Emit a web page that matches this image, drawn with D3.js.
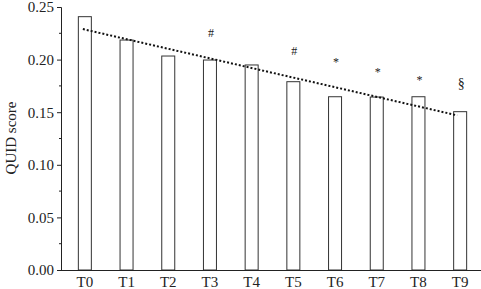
<!DOCTYPE html>
<html>
<head>
<meta charset="utf-8">
<script src="https://cdn.jsdelivr.net/npm/d3@7"></script>
<style>
  body { margin: 0; background: #fff; }
  text { font-family: "Liberation Serif", serif; fill: #222; }
</style>
</head>
<body>
<div id="viz"></div>
<script>
// values
var categories = ['T0', 'T1', 'T2', 'T3', 'T4', 'T5', 'T6', 'T7', 'T8', 'T9'];
var scores = [0.2408, 0.2186, 0.2034, 0.1996, 0.1949, 0.1790, 0.1647, 0.1644, 0.1647, 0.1505];
var trend = [0.229, 0.147];          // dotted line, at T0 and T9
var markLabels = ['', '', '', '#', '', '#', '*', '*', '*', '§'];
var markValues = [0, 0, 0, 0.2256, 0, 0.2085, 0.2012, 0.1908, 0.1837, 0.1780];
var yTicks = [0, 0.05, 0.10, 0.15, 0.20, 0.25];
var yMinor = [0.025, 0.075, 0.125, 0.175, 0.225];

var width = 481,
    height = 289,
    barWidth = 13;

var marks = [];
for (var i = 0; i < categories.length; i++) {
  if (markLabels[i] !== '') {
    marks.push({cat: categories[i], label: markLabels[i], value: markValues[i]});
  }
}

var svg = d3.select('#viz').append('svg')
  .attr('width', width)
  .attr('height', height);

var yScale = d3.scaleLinear()
  .domain([0, 0.25])
  .range([270, 7]);

var xScale = d3.scaleBand()
  .domain(categories)
  .range([64, 481])
  .padding(0);

function center(c) {
  return xScale(c) + xScale.bandwidth() / 2;
}

// bars
svg.selectAll('rect.bar').data(scores)
  .enter().append('rect')
    .attr('class', 'bar')
    .attr('x', function(d, i) { return center(categories[i]) - barWidth / 2; })
    .attr('y', function(d) { return yScale(d); })
    .attr('width', barWidth)
    .attr('height', function(d) { return yScale(0) - yScale(d); })
    .attr('fill', '#fff')
    .attr('stroke', '#333')
    .attr('stroke-width', 1);

// trend line
svg.append('line')
  .attr('x1', center(categories[0]) - 2)
  .attr('x2', center(categories[categories.length - 1]) - 3)
  .attr('y1', yScale(trend[0]))
  .attr('y2', yScale(trend[1]))
  .attr('stroke', '#111')
  .attr('stroke-width', 2)
  .attr('stroke-dasharray', '2,2');

// significance marks
svg.selectAll('text.mark').data(marks)
  .enter().append('text')
    .attr('class', 'mark')
    .attr('x', function(d) { return center(d.cat) + 1; })
    .attr('y', function(d) { return yScale(d.value); })
    .attr('dy', function(d) { return d.label === '*' ? '0.6em' : '0.35em'; })
    .attr('text-anchor', 'middle')
    .style('font-size', function(d) { return d.label === '§' ? '14px' : '12px'; })
    .text(function(d) { return d.label; });

// y axis
var yAxis = d3.axisLeft(yScale)
  .tickValues(yTicks)
  .tickSize(4)
  .tickPadding(3)
  .tickFormat(d3.format('.2f'));

var yg = svg.append('g')
  .attr('transform', 'translate(61,0)')
  .call(yAxis);
yg.select('.domain').attr('stroke', '#222');
yg.selectAll('.tick line').attr('stroke', '#222');
yg.selectAll('.tick text').style('font-size', '15px').attr('fill', '#222');

svg.append('g')
  .attr('transform', 'translate(61,0)')
  .selectAll('line').data(yMinor)
  .enter().append('line')
    .attr('x1', -2)
    .attr('x2', 0)
    .attr('y1', function(d) { return yScale(d); })
    .attr('y2', function(d) { return yScale(d); })
    .attr('stroke', '#222');

// x axis
var xAxis = d3.axisBottom(xScale).tickSize(0).tickPadding(6);
var xg = svg.append('g')
  .attr('transform', 'translate(0,270)')
  .call(xAxis);
xg.select('.domain').attr('d', 'M61,0.5H481').attr('stroke', '#222');
xg.selectAll('.tick text').style('font-size', '15px').attr('fill', '#222');

svg.append('text')
  .attr('transform', 'translate(16,138) rotate(-90)')
  .attr('text-anchor', 'middle')
  .style('font-size', '15px')
  .text('QUID score');
</script>
</body>
</html>
